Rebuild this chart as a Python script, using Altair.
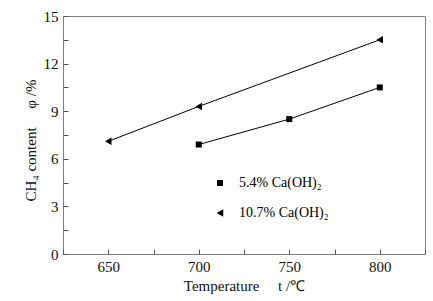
import altair as alt
import pandas as pd

series_a = "5.4% Ca(OH)₂"
series_b = "10.7% Ca(OH)₂"
temp_a = [700, 750, 800]
ch4_a = [6.9, 8.5, 10.5]
temp_b = [650, 700, 800]
ch4_b = [7.1, 9.3, 13.5]
x_ticks = [625, 650, 675, 700, 725, 750, 775, 800, 825]
y_ticks = [0, 1.5, 3, 4.5, 6, 7.5, 9, 10.5, 12, 13.5, 15]

df = pd.DataFrame({
    "t": temp_a + temp_b,
    "v": ch4_a + ch4_b,
    "s": [series_a] * len(temp_a) + [series_b] * len(temp_b),
})

FONT = "Liberation Serif"
NB = "\u00a0"

x = alt.X("t:Q", scale=alt.Scale(domain=[625, 825], nice=False, zero=False),
          axis=alt.Axis(values=x_ticks, title="Temperature" + NB * 5 + "t /℃",
                        labelExpr="datum.value % 50 == 0 && datum.value != 825 && datum.value != 625 ? datum.label : ''",
                        grid=False, domain=False, offset=-5, tickSize=5,
                        labelPadding=5, titlePadding=4,
                        labelFont=FONT, labelFontSize=15, titleFont=FONT, titleFontSize=15))
y = alt.Y("v:Q", scale=alt.Scale(domain=[0, 15], nice=False),
          axis=alt.Axis(values=y_ticks, title="CH₄ content" + NB * 5 + "φ /%",
                        labelExpr="datum.value % 3 == 0 ? datum.label : ''",
                        grid=False, domain=False, offset=-5, tickSize=5,
                        labelPadding=5, titleX=-30, titleY=124,
                        labelFont=FONT, labelFontSize=15, titleFont=FONT, titleFontSize=15))

leg = alt.Legend(title=None, orient="none", legendX=150, legendY=160,
                 symbolFillColor="black", symbolStrokeWidth=0,
                 labelFontSize=14, labelFont=FONT,
                 labelColor="black", rowPadding=16, labelOffset=12,
                 padding=0)
shape = alt.Shape("s:N", sort=[series_a, series_b],
                  scale=alt.Scale(domain=[series_a, series_b], range=["square", "triangle-left"]),
                  legend=leg)
size = alt.Size("s:N", sort=[series_a, series_b],
                scale=alt.Scale(domain=[series_a, series_b], range=[36, 56]),
                legend=leg)

base = alt.Chart(df)
lines = base.mark_line(color="black", strokeWidth=1).encode(x=x, y=y, detail="s:N")
points = base.mark_point(filled=True, color="black", opacity=1).encode(x=x, y=y, shape=shape, size=size)

chart = alt.layer(lines, points).properties(
    width=362, height=238,
    autosize=alt.AutoSizeParams(type="none"),
    padding={"left": 63, "top": 16, "right": 8, "bottom": 47},
    background="white",
).configure_view(stroke="#808080", strokeWidth=1).configure_axis(
    labelFont=FONT, labelFontSize=15, labelColor="#111111",
    titleFont=FONT, titleFontSize=15, titleColor="#111111", titleFontWeight="normal",
    tickColor="#555555",
)

chart.save("out.html", embed_options={"renderer": "svg", "actions": False})
